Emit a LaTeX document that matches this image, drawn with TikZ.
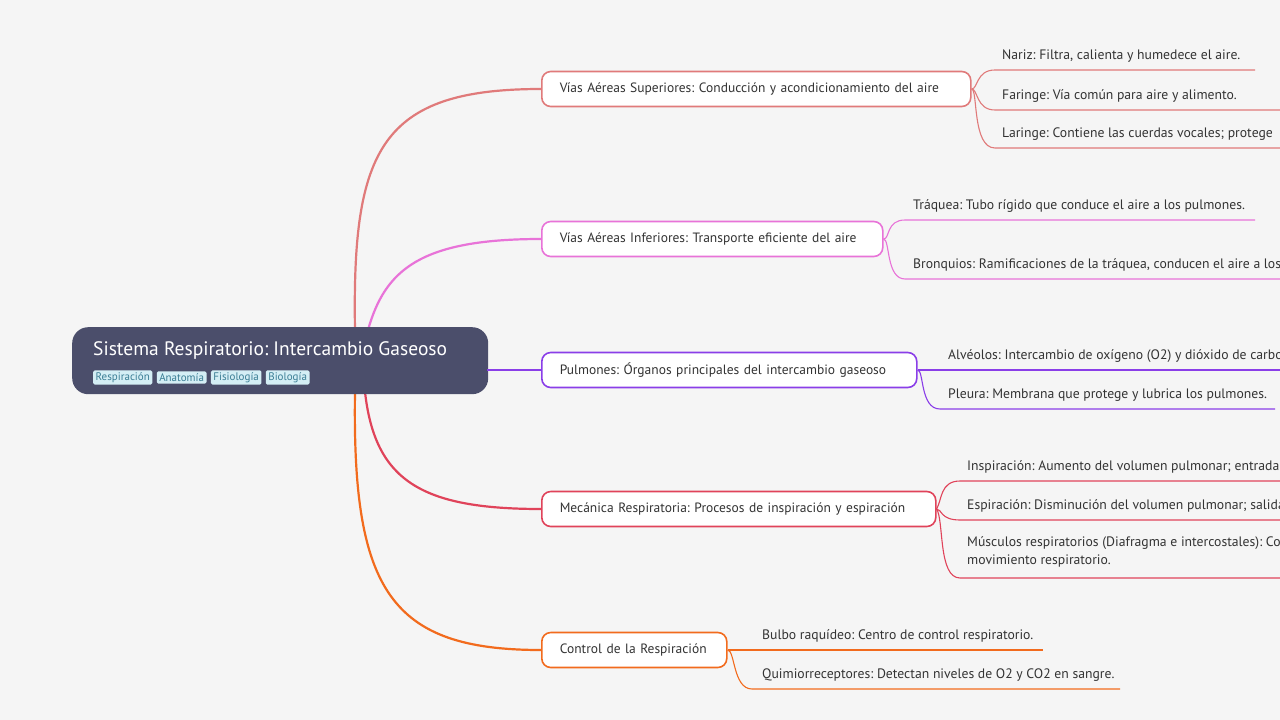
\documentclass[tikz,border=0pt]{standalone}
\usepackage{fontspec}
\setmainfont{PT Sans}
\frenchspacing
\definecolor{bg}{HTML}{F5F5F5}
\definecolor{rootc}{HTML}{4B4E6B}
\definecolor{tagf}{HTML}{D4EEF5}
\definecolor{tagt}{HTML}{3A7D94}
\definecolor{txt}{HTML}{333333}
\definecolor{cA}{HTML}{E07A7A}
\definecolor{cB}{HTML}{E873D8}
\definecolor{cC}{HTML}{8A3EE8}
\definecolor{cD}{HTML}{E0435A}
\definecolor{cE}{HTML}{F26B1D}
\tikzset{
 mainbox/.style={draw=#1, line width=1.6pt, fill=white, rounded corners=9pt, minimum height=35pt, inner xsep=18pt, anchor=west, text=txt, align=left, font=\fontsize{13.5}{16}\selectfont\frenchspacing},
 leaf/.style={anchor=base west, inner sep=0pt, text=txt, font=\fontsize{13.7}{16}\selectfont\frenchspacing},
 tag/.style={fill=tagf, text=tagt, inner xsep=2.5pt, inner ysep=2pt, rounded corners=1.5pt, anchor=west, font=\fontsize{11}{13}\selectfont},
 br/.style={line width=2.2pt, draw=#1},
 lf/.style={line width=1.1pt, draw=#1},
}
\begin{document}
\begin{tikzpicture}[x=1pt,y=-1pt]
\useasboundingbox (0,0) rectangle (1280,720);
\fill[bg] (0,0) rectangle (1280,720);
\clip (0,0) rectangle (1280,720);
\coordinate (r1) at (355,330);
\coordinate (r2) at (368,330);
\coordinate (r4) at (365,392);
\coordinate (r5) at (355,392);
\node[mainbox=cA, text width=393pt] (n1) at (541,89) {Vías Aéreas Superiores: Conducción y acondicionamiento del aire};
\node[mainbox=cB, text width=305pt] (n2) at (541,239) {Vías Aéreas Inferiores: Transporte eficiente del aire};
\node[mainbox=cC, text width=339pt] (n3) at (541,370) {Pulmones: Órganos principales del intercambio gaseoso};
\node[mainbox=cD, text width=358pt] (n4) at (541,509) {Mecánica Respiratoria: Procesos de inspiración y espiración};
\node[mainbox=cE, text width=149pt] (n5) at (541,650) {Control de la Respiración};
\draw[br=cA] (r1) .. controls (352,150) and (380,89) .. (n1.west);
\draw[br=cB] (r2) .. controls (385,270) and (420,239) .. (n2.west);
\draw[br=cD] (r4) .. controls (375,480) and (420,509) .. (n4.west);
\draw[br=cE] (r5) .. controls (352,590) and (390,650) .. (n5.west);
\node[fill=rootc, rounded corners=16pt, minimum width=416pt, minimum height=67pt, anchor=north west] (root) at (72,327) {};
\coordinate (rc) at (487,370);
\draw[br=cC] (rc) -- (n3.west);
\node[anchor=base west, text=white, inner sep=0pt, font=\fontsize{19.5}{22}\selectfont] (title) at (93,355) {Sistema Respiratorio: Intercambio Gaseoso};
\node[tag] (t1) at (93,377.5) {Respiración};
\node[tag] (t2) at ([xshift=4pt]t1.east) {Anatomía};
\node[tag] (t3) at ([xshift=4pt]t2.east) {Fisiología};
\node[tag] (t4) at ([xshift=4pt]t3.east) {Biología};
\node[leaf] (a1) at (1002,59) {Nariz: Filtra, calienta y humedece el aire.};
\node[leaf] (a2) at (1002,99) {Faringe: Vía común para aire y alimento.};
\node[leaf] (a3) at (1002,137) {Laringe: Contiene las cuerdas vocales; protege};
\coordinate (a1e) at (1255,70); \coordinate (a2e) at (1280,110); \coordinate (a3e) at (1280,148);
\draw[lf=cA] (n1.east) .. controls (978,89) and (976,70) .. (995,70) -- (a1e);
\draw[lf=cA] (n1.east) .. controls (978,89) and (976,110) .. (995,110) -- (a2e);
\draw[lf=cA] (n1.east) .. controls (978,89) and (972,148) .. (995,148) -- (a3e);
\node[leaf] (b1) at (913,209) {Tráquea: Tubo rígido que conduce el aire a los pulmones.};
\node[leaf] (b2) at (913,268) {Bronquios: Ramificaciones de la tráquea, conducen el aire a los};
\coordinate (b1e) at (1255,220); \coordinate (b2e) at (1280,279);
\draw[lf=cB] (n2.east) .. controls (890,239) and (886,220) .. (905,220) -- (b1e);
\draw[lf=cB] (n2.east) .. controls (890,239) and (886,279) .. (905,279) -- (b2e);
\node[leaf] (c1) at (948,359) {Alvéolos: Intercambio de oxígeno (O2) y dióxido de carbono};
\node[leaf] (c2) at (948,398) {Pleura: Membrana que protege y lubrica los pulmones.};
\coordinate (c1e) at (1280,370); \coordinate (c2e) at (1275,409);
\draw[lf=cC] (n3.east) -- (c1e);
\draw[lf=cC] (n3.east) .. controls (924,370) and (920,409) .. (940,409) -- (c2e);
\node[leaf] (d1) at (967,470) {Inspiración: Aumento del volumen pulmonar; entrada};
\node[leaf] (d2) at (967,509) {Espiración: Disminución del volumen pulmonar; salida};
\node[leaf, align=left, anchor=north west, font=\fontsize{13.7}{18}\selectfont\frenchspacing] (d3) at (967,536) {Músculos respiratorios (Diafragma e intercostales): Con\\movimiento respiratorio.};
\coordinate (d1e) at (1280,481); \coordinate (d2e) at (1280,520); \coordinate (d3e) at (1280,578);
\draw[lf=cD] (n4.east) .. controls (942,500) and (940,481) .. (960,481) -- (d1e);
\draw[lf=cD] (n4.east) .. controls (942,509) and (940,520) .. (960,520) -- (d2e);
\draw[lf=cD] (n4.east) .. controls (944,520) and (938,578) .. (960,578) -- (d3e);
\node[leaf] (e1) at (762,639) {Bulbo raquídeo: Centro de control respiratorio.};
\node[leaf] (e2) at (762,678) {Quimiorreceptores: Detectan niveles de O2 y CO2 en sangre.};
\coordinate (e1e) at (1043,650); \coordinate (e2e) at (1120,689);
\draw[lf=cE] (n5.east) -- (e1e);
\draw[lf=cE] (n5.east) .. controls (735,650) and (733,689) .. (752,689) -- (e2e);
\end{tikzpicture}
\end{document}
